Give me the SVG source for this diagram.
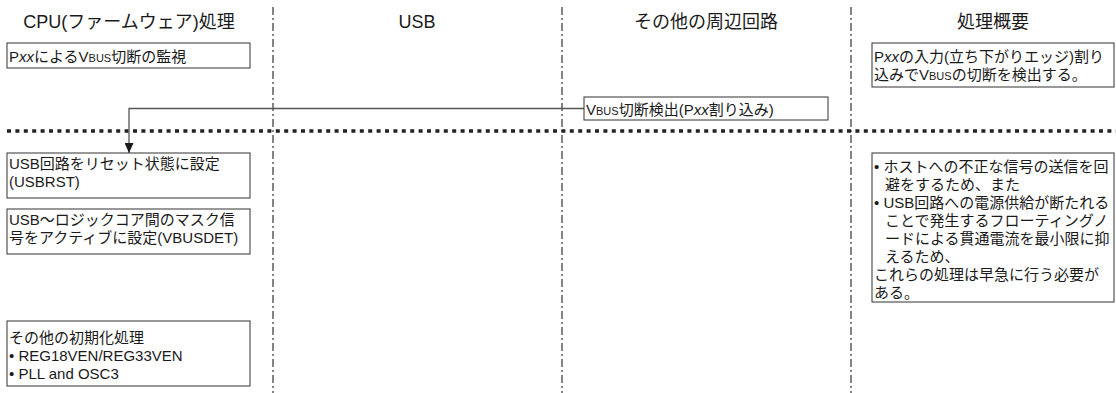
<svg xmlns="http://www.w3.org/2000/svg" width="1116" height="393" viewBox="0 0 1116 393">
<defs>
<style>
text{font-family:"Liberation Sans","Noto Sans CJK JP",sans-serif;fill:#1a1a1a;}
.title{font-size:18px;text-anchor:middle;}
.t{font-size:15px;}
.it{font-style:italic;}
.sc{font-size:11px;}
.box{fill:#fff;stroke:#333;stroke-width:1;}
.lane{stroke:#333;stroke-width:1.2;stroke-dasharray:8 3 2 3;fill:none;}
.phase{stroke:#222;stroke-width:3.5;stroke-dasharray:4 4.4;fill:none;}
.conn{stroke:#555;stroke-width:1.3;fill:none;}
</style>
<marker id="arr" viewBox="0 0 10 9" refX="10" refY="4.5" markerWidth="10" markerHeight="9" markerUnits="userSpaceOnUse" orient="auto">
<path d="M0,0 L10,4.5 L0,9 z" fill="#1a1a1a"/>
</marker>
</defs>
<rect width="1116" height="393" fill="#fff"/>
<g id="lanes">
<line class="lane" x1="273" y1="7" x2="273" y2="393"/>
<line class="lane" x1="562" y1="7" x2="562" y2="393"/>
<line class="lane" x1="851" y1="7" x2="851" y2="393"/>
<line class="phase" x1="7" y1="131" x2="1116" y2="131"/>
</g>
<g id="titles">
<text class="title" x="129" y="28">CPU(ファームウェア)処理</text>
<text class="title" x="417" y="28">USB</text>
<text class="title" x="706" y="28">その他の周辺回路</text>
<text class="title" x="993" y="28">処理概要</text>
</g>
<g id="connectors">
<path class="conn" d="M584,108.5 H129 V153" marker-end="url(#arr)"/>
</g>
<g id="n-monitor">
<rect class="box" x="7" y="43" width="243" height="25"/>
<text class="t" x="9" y="61.5">P<tspan class="it">xx</tspan>によるV<tspan class="sc">BUS</tspan>切断の監視</text>
</g>
<g id="n-detect">
<rect class="box" x="584" y="97" width="244" height="23"/>
<text class="t" x="586" y="115">V<tspan class="sc">BUS</tspan>切断検出(P<tspan class="it">xx</tspan>割り込み)</text>
</g>
<g id="n-summary1">
<rect class="box" x="872" y="43" width="242" height="44"/>
<text class="t" x="874" y="61.5">P<tspan class="it">xx</tspan>の入力(立ち下がりエッジ)割り</text>
<text class="t" x="874" y="79.5">込みでV<tspan class="sc">BUS</tspan>の切断を検出する。</text>
</g>
<g id="n-usbrst">
<rect class="box" x="7" y="153" width="243" height="45"/>
<text class="t" x="9" y="168.5">USB回路をリセット状態に設定</text>
<text class="t" x="9" y="186.5">(USBRST)</text>
</g>
<g id="n-vbusdet">
<rect class="box" x="7" y="209" width="243" height="45"/>
<text class="t" x="9" y="225">USB～ロジックコア間のマスク信</text>
<text class="t" x="9" y="243">号をアクティブに設定(VBUSDET)</text>
</g>
<g id="n-init">
<rect class="box" x="7" y="321" width="243" height="65"/>
<text class="t" x="9" y="343">その他の初期化処理</text>
<text class="t" x="9" y="361">• REG18VEN/REG33VEN</text>
<text class="t" x="9" y="379">• PLL and OSC3</text>
</g>
<g id="n-summary2">
<rect class="box" x="872" y="153" width="242" height="149"/>
<text class="t" x="874" y="172">• ホストへの不正な信号の送信を回</text>
<text class="t" x="885" y="190">避をするため、また</text>
<text class="t" x="874" y="208">• USB回路への電源供給が断たれる</text>
<text class="t" x="885" y="226">ことで発生するフローティングノ</text>
<text class="t" x="885" y="244">ードによる貫通電流を最小限に抑</text>
<text class="t" x="885" y="262">えるため、</text>
<text class="t" x="874" y="280">これらの処理は早急に行う必要が</text>
<text class="t" x="874" y="298">ある。</text>
</g>
</svg>
